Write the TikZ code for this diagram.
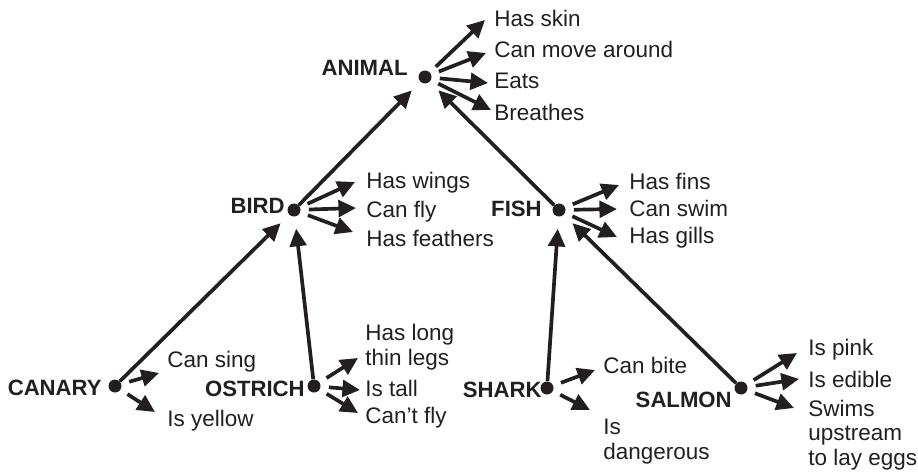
\documentclass[tikz,border=0pt]{standalone}
\usepackage{fontspec}
\setmainfont{Liberation Sans}
\usetikzlibrary{arrows.meta,calc}
\definecolor{ink}{HTML}{231F20}
\begin{document}
\begin{tikzpicture}[x=0.02cm,y=-0.02cm,
  dot/.style={circle,fill=ink,inner sep=0pt,minimum size=0.26cm},
  cls/.style={font=\fontsize{12.6}{13.9}\selectfont\bfseries,text=ink,inner sep=0pt,anchor=base east},
  attrtext/.style={font=\fontsize{12.8}{13.9}\selectfont,text=ink,inner sep=0pt,anchor=base west,align=left},
  link/.style={draw=ink,line width=2.1pt,-{Triangle[length=10pt,width=9.5pt]},shorten >=0.24cm},
  attr/.style={draw=ink,line width=2.1pt,-{Triangle[length=10pt,width=9.5pt]},shorten <=0.16cm},
]
\useasboundingbox (0,0) rectangle (918,473);

% class dots and labels
\node[dot] (animal) at (425,77) {};
\node[cls] (animalL) at (408,75) {ANIMAL};
\node[dot] (bird) at (294,210) {};
\node[cls] (birdL) at (285,213) {BIRD};
\node[dot] (fish) at (559,210) {};
\node[cls] (fishL) at (542,216) {FISH};
\node[dot] (canary) at (115,386) {};
\node[cls] (canaryL) at (102,395) {CANARY};
\node[dot] (ostrich) at (314,386) {};
\node[cls] (ostrichL) at (305,396) {OSTRICH};
\node[dot] (shark) at (547,388) {};
\node[cls] (sharkL) at (542,397) {SHARK};
\node[dot] (salmon) at (741,388) {};
\node[cls] (salmonL) at (732,407) {SALMON};

% attribute texts
\node[attrtext] (skin) at (494,27) {Has skin};
\node[attrtext] (move) at (494,58) {Can move around};
\node[attrtext] (eats) at (494,89) {Eats};
\node[attrtext] (breathes) at (494,120) {Breathes};

\node[attrtext] (wings) at (366,188) {Has wings};
\node[attrtext] (fly) at (366,217) {Can fly};
\node[attrtext] (feathers) at (366,246) {Has feathers};

\node[attrtext] (fins) at (629,189) {Has fins};
\node[attrtext] (swim) at (629,216) {Can swim};
\node[attrtext] (gills) at (629,243) {Has gills};

\node[attrtext] (sing) at (167,367) {Can sing};
\node[attrtext] (yellow) at (167,426) {Is yellow};

\node[attrtext] (legs) at (365,365) {Has long\\thin legs};
\node[attrtext] (tall) at (365,396) {Is tall};
\node[attrtext] (cantfly) at (365,423) {Can’t fly};

\node[attrtext] (bite) at (603,373) {Can bite};
\node[attrtext] (dangerous) at (603,459) {Is\\dangerous};

\node[attrtext] (pink) at (808,355) {Is pink};
\node[attrtext] (edible) at (808,387) {Is edible};
\node[attrtext] (swims) at (808,465) {Swims\\upstream\\to lay eggs};

% is-a links
\draw[link] (bird) -- (animal);
\draw[link] (fish) -- (animal);
\draw[link] (canary) -- (bird);
\draw[link] (ostrich) -- (bird);
\draw[link] (shark) -- (fish);
\draw[link] (salmon) -- (fish);

% attribute arrows
\draw[attr] (animal) -- ($(skin.base west)+(-9,-7)$);
\draw[attr] (animal) -- ($(move.base west)+(-8,-5)$);
\draw[attr] (animal) -- ($(eats.base west)+(-6,-6)$);
\draw[attr] (animal) -- ($(breathes.base west)+(-3,-10)$);

\draw[attr] (bird) -- ($(wings.base west)+(-11,-6)$);
\draw[attr] (bird) -- ($(fly.base west)+(-10,-9)$);
\draw[attr] (bird) -- ($(feathers.base west)+(-13,-14)$);

\draw[attr] (fish) -- ($(fins.base west)+(-10,-4)$);
\draw[attr] (fish) -- ($(swim.base west)+(-12,-7)$);
\draw[attr] (fish) -- ($(gills.base west)+(-12,-6)$);

\draw[attr] (canary) -- ($(sing.base west)+(-8,6)$);
\draw[attr] (canary) -- ($(yellow.base west)+(-12,-14)$);

\draw[attr] (ostrich) -- ($(legs.base west)+(-7,-7)$);
\draw[attr] (ostrich) -- ($(tall.base west)+(-5,-6)$);
\draw[attr] (ostrich) -- ($(cantfly.base west)+(-7,-10)$);

\draw[attr] (shark) -- ($(bite.base west)+(-8,-3)$);
\draw[attr] (shark) -- ($(dangerous.base west)+(-13,-49)$);

\draw[attr] (salmon) -- ($(pink.base west)+(-11,-2)$);
\draw[attr] (salmon) -- ($(edible.base west)+(-9,-8)$);
\draw[attr] (salmon) -- ($(swims.base west)+(-14,-57)$);
\end{tikzpicture}
\end{document}
